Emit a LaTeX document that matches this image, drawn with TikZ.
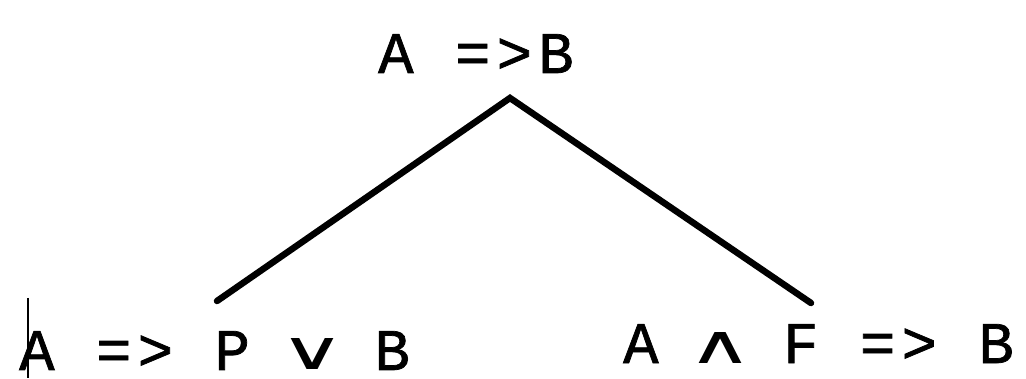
\documentclass[tikz,border=0pt]{standalone}
\usepackage{fontspec}
\newfontfamily\monof{Liberation Mono}[LetterSpace=10.5,FakeBold=1.2]
\newfontfamily\symf{DejaVu Sans}
\newcommand\labfont{\monof\fontsize{59}{60}\selectfont
  \fontdimen2\font 41.5pt\relax
  \fontdimen3\font 0pt\relax
  \fontdimen4\font 0pt\relax}
\newcommand\myvee{\makebox[41.5pt]{\resizebox{66pt}{31pt}{\symf ∨}}}
\newcommand\mywedge{\makebox[41.5pt]{\resizebox{66pt}{31pt}{\symf ∧}}}
\tikzset{
  lab/.style={anchor=base west, inner sep=0pt, text depth=0pt, font=\labfont},
  branch/.style={line width=6.5pt, line cap=round},
  cursorbar/.style={line width=1.2pt}
}
\begin{document}
\begin{tikzpicture}[x=1pt,y=-1pt]
\useasboundingbox (0,0) rectangle (1026,379);
\node[lab] (top) at (378,73) {A =>B};
\node[lab] (left) at (19,370) {A => P \myvee{} B};
\node[lab] (right) at (623,363) {A \mywedge{} F => B};
\coordinate (apex) at (510,98);
\coordinate (lend) at (217,301);
\coordinate (rend) at (811,303);
\draw[branch] (lend) -- (apex) -- (rend);
\coordinate (c1) at (28,298);
\coordinate (c2) at (28,378);
\draw[cursorbar] (c1) -- (c2);
\end{tikzpicture}
\end{document}
